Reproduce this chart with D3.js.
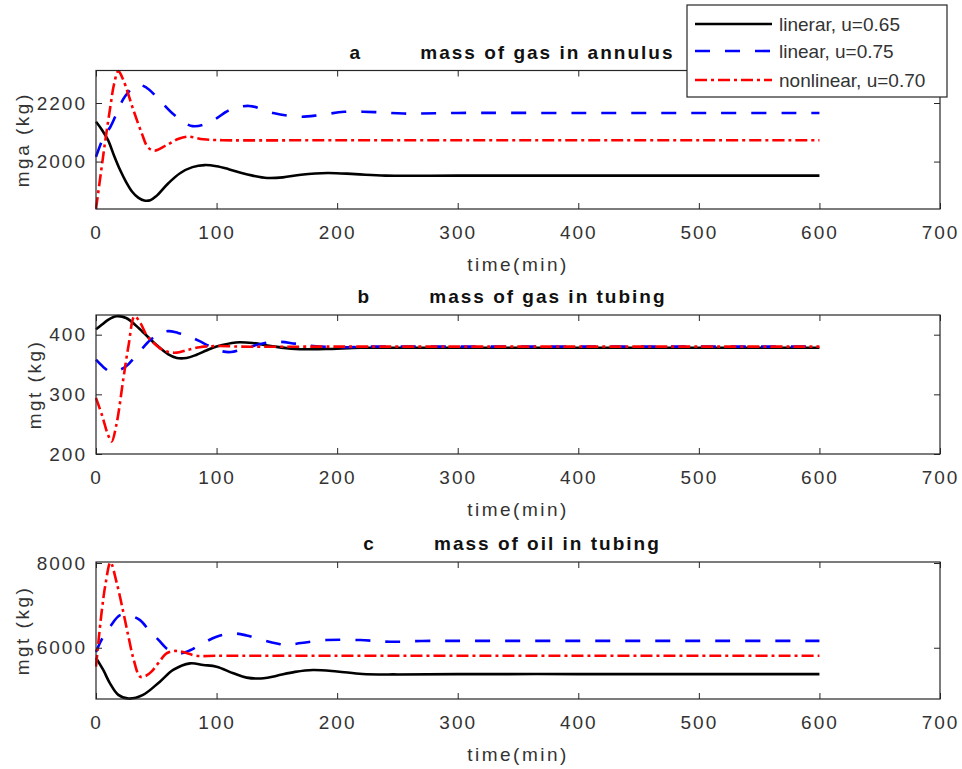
<!DOCTYPE html>
<html>
<head>
<meta charset="utf-8">
<script src="https://cdn.jsdelivr.net/npm/d3@7"></script>
<style>
  html, body { margin: 0; padding: 0; background: #fff; }
  svg { display: block; font-family: "Liberation Sans", Arial, Helvetica, sans-serif; }
</style>
</head>
<body>
<svg id="chart" width="962" height="769"></svg>
<script>
// Time axis
const timeTicks = [0, 100, 200, 300, 400, 500, 600, 700];

// (a) mass of gas in annulus, mga (kg): [time (min), value]
const annulusLinear065 = [[0,2136],[5,2108],[10,2073],[15,2020],[20,1971],[25,1930],[30,1897],[35,1877],[40,1867],[45,1868],[50,1882],[60,1926],[70,1961],[80,1981],[90,1988],[100,1984],[110,1974],[120,1962],[130,1952],[142,1944],[155,1946],[170,1955],[192,1961],[215,1957],[240,1952],[300,1952],[400,1952],[500,1952],[600,1952]];
const annulusLinear075 = [[0,2016],[7,2090],[12,2119],[24,2222],[34,2262],[42,2252],[50,2222],[65,2159],[80,2121],[95,2136],[111,2176],[127,2190],[147,2166],[169,2153],[186,2159],[206,2170],[231,2169],[255,2164],[300,2166],[400,2166],[500,2166],[600,2166]];
const annulusNonlinear070 = [[0,1838],[4,1960],[8,2080],[12,2190],[15,2265],[18.5,2309],[22.6,2279],[31,2176],[38,2096],[43,2049],[48.5,2037],[58.5,2056],[68,2077],[76,2085],[89,2076],[105,2073],[200,2073],[300,2073],[400,2073],[500,2073],[600,2073]];

// (b) mass of gas in tubing, mgt (kg)
const tubingGasLinear065 = [[0,409],[5,417],[10,425],[17,431],[25,428],[36,410],[50,383],[60,367],[67,361],[75,361],[83,366],[92,374],[100,380],[116,387],[130,386],[145,381],[165,376],[190,376],[220,378],[260,378],[300,378],[400,378],[500,378],[600,378]];
const tubingGasLinear075 = [[0,358],[6,346],[12,338],[18,340],[25,347],[35,369],[45,391],[53,402],[60,406],[68,403],[75,399],[85,390],[95,380],[105,372],[112,371],[125,378],[140,386],[152,388],[165,385],[180,381],[200,379],[230,380],[300,380],[400,380],[500,380],[600,380]];
const tubingGasNonlinear070 = [[0,294],[5,265],[10,232],[13,221],[17,250],[22.6,325],[27,382],[32,431],[37,419],[42,399],[47,388],[54,376],[60,371],[67,370],[75,374],[86,379],[100,381],[120,380],[200,380],[300,380],[400,380],[500,380],[600,380]];

// (c) mass of oil in tubing, mgt (kg)
const tubingOilLinear065 = [[0,5760],[6,5475],[11.6,5160],[18.5,4887],[27,4800],[39,4887],[53,5200],[64,5475],[78,5631],[89,5593],[100,5553],[114,5396],[125,5294],[139,5278],[150,5340],[165,5430],[180,5475],[200,5440],[221,5380],[250,5370],[300,5378],[400,5378],[500,5378],[600,5378]];
const tubingOilLinear075 = [[0,5900],[4.5,6181],[11.6,6494],[20,6769],[28,6760],[36.5,6651],[45,6376],[52,6180],[58.5,5984],[64,5900],[70,5866],[78,5940],[86,6064],[100,6259],[113.6,6337],[125,6290],[138,6181],[150,6100],[158,6064],[170,6110],[191,6181],[219,6181],[244,6141],[270,6160],[300,6162],[400,6162],[500,6162],[600,6162]];
const tubingOilNonlinear070 = [[0,5553],[4.5,6800],[8,7522],[12,8015],[17,7553],[22.6,6847],[27,6250],[31,5749],[36.5,5318],[41,5330],[46,5435],[52,5650],[58.5,5866],[65,5925],[72,5900],[83,5812],[100,5810],[200,5810],[300,5810],[400,5810],[500,5810],[600,5810]];

// Panel settings
const panelTitles = ["a        mass of gas in annulus", "b        mass of gas in tubing", "c        mass of oil in tubing"];
const panelYLabels = ["mga (kg)", "mgt (kg)", "mgt (kg)"];
const panelYDomains = [[1838, 2311], [200, 433], [4790, 8024]];
const panelYTicks = [[2000, 2200], [200, 300, 400], [6000, 8000]];
const panelSeries = [
  [annulusLinear065, annulusLinear075, annulusNonlinear070],
  [tubingGasLinear065, tubingGasLinear075, tubingGasNonlinear070],
  [tubingOilLinear065, tubingOilLinear075, tubingOilNonlinear070]
];

// Legend
const seriesNames = ["linerar, u=0.65", "linear, u=0.75", "nonlinear, u=0.70"];
const seriesColors = ["#000000", "#0000ff", "#ff0000"];
const seriesDash = [null, "15,15", "12,4,3,4"];

const svg = d3.select("#chart");
const axisColor = "#262626";
const textColor = "#333333";

const left = 96, right = 940;
const panelBoxes = [[70.5, 209], [315, 454], [562, 699]];

const x = d3.scaleLinear().domain([0, 700]).range([left, right]);

panelBoxes.forEach(([top, bottom], i) => {
  const g = svg.append("g");
  const y = d3.scaleLinear().domain(panelYDomains[i]).range([bottom, top]);

  const clipId = "clip" + i;
  svg.append("clipPath").attr("id", clipId)
    .append("rect").attr("x", left - 1).attr("y", top - 1.5)
    .attr("width", right - left + 2).attr("height", bottom - top + 3);

  // curves
  const line = d3.line().x(d => x(d[0])).y(d => y(d[1])).curve(d3.curveCatmullRom.alpha(0.5));
  panelSeries[i].forEach((data, k) => {
    g.append("path").datum(data)
      .attr("clip-path", `url(#${clipId})`)
      .attr("fill", "none")
      .attr("stroke", seriesColors[k])
      .attr("stroke-width", 2.6)
      .attr("stroke-dasharray", seriesDash[k])
      .attr("d", line);
  });

  // bottom axis with labels, ticks pointing inward
  const xAxis = g.append("g").attr("transform", `translate(0,${bottom})`)
    .call(d3.axisBottom(x).tickValues(timeTicks).tickSizeInner(-6).tickSizeOuter(0).tickPadding(17));
  // top axis, ticks only
  const xTop = g.append("g").attr("transform", `translate(0,${top})`)
    .call(d3.axisTop(x).tickValues(timeTicks).tickSizeInner(-6).tickSizeOuter(0).tickFormat(""));
  // left axis with labels
  const yAxis = g.append("g").attr("transform", `translate(${left},0)`)
    .call(d3.axisLeft(y).tickValues(panelYTicks[i]).tickSizeInner(-6).tickSizeOuter(0).tickPadding(9).tickFormat(d3.format("d")));
  // right axis, ticks only
  const yRight = g.append("g").attr("transform", `translate(${right},0)`)
    .call(d3.axisRight(y).tickValues(panelYTicks[i]).tickSizeInner(-6).tickSizeOuter(0).tickFormat(""));

  [xAxis, xTop, yAxis, yRight].forEach(a => {
    a.select(".domain").remove();
    a.selectAll(".tick line").attr("stroke", axisColor);
    a.selectAll("text").attr("fill", textColor).attr("font-size", 19)
      .attr("font-family", "Liberation Sans, Arial, sans-serif").style("letter-spacing", "2px");
  });
  xAxis.selectAll(".tick text").attr("dy", "0.71em");

  // axes box
  g.append("rect").attr("x", left).attr("y", top)
    .attr("width", right - left).attr("height", bottom - top)
    .attr("fill", "none").attr("stroke", axisColor).attr("stroke-width", 1.2);

  // x label
  g.append("text").attr("x", (left + right) / 2).attr("y", bottom + 62)
    .attr("text-anchor", "middle").attr("fill", textColor)
    .attr("font-size", 19).style("letter-spacing", "2.5px")
    .text("time(min)");

  // y label placed just left of the tick labels
  const tb = yAxis.node().getBBox();
  const yl = left + tb.x - 8;
  g.append("text").attr("transform", `translate(${yl},${(top + bottom) / 2}) rotate(-90)`)
    .attr("text-anchor", "middle").attr("fill", textColor)
    .attr("font-size", 19).style("letter-spacing", "2.5px")
    .text(panelYLabels[i]);

  // title
  g.append("text").attr("x", 512).attr("y", top - 12)
    .attr("text-anchor", "middle").attr("fill", "#111")
    .attr("font-size", 19).attr("font-weight", "bold")
    .style("white-space", "pre").style("letter-spacing", "2px")
    .text(panelTitles[i]);
});

// legend
const lg = svg.append("g");
lg.append("rect").attr("x", 687).attr("y", 5).attr("width", 260).attr("height", 92)
  .attr("fill", "#fff").attr("stroke", axisColor).attr("stroke-width", 1.2);
const legendRows = [24, 51, 80];
seriesNames.forEach((name, k) => {
  lg.append("line").attr("x1", 695).attr("x2", 772)
    .attr("y1", legendRows[k]).attr("y2", legendRows[k])
    .attr("stroke", seriesColors[k]).attr("stroke-width", 2.6)
    .attr("stroke-dasharray", seriesDash[k]);
  lg.append("text").attr("x", 779).attr("y", legendRows[k]).attr("dy", "0.35em")
    .attr("fill", textColor).attr("font-size", 19)
    .text(name);
});
</script>
</body>
</html>
